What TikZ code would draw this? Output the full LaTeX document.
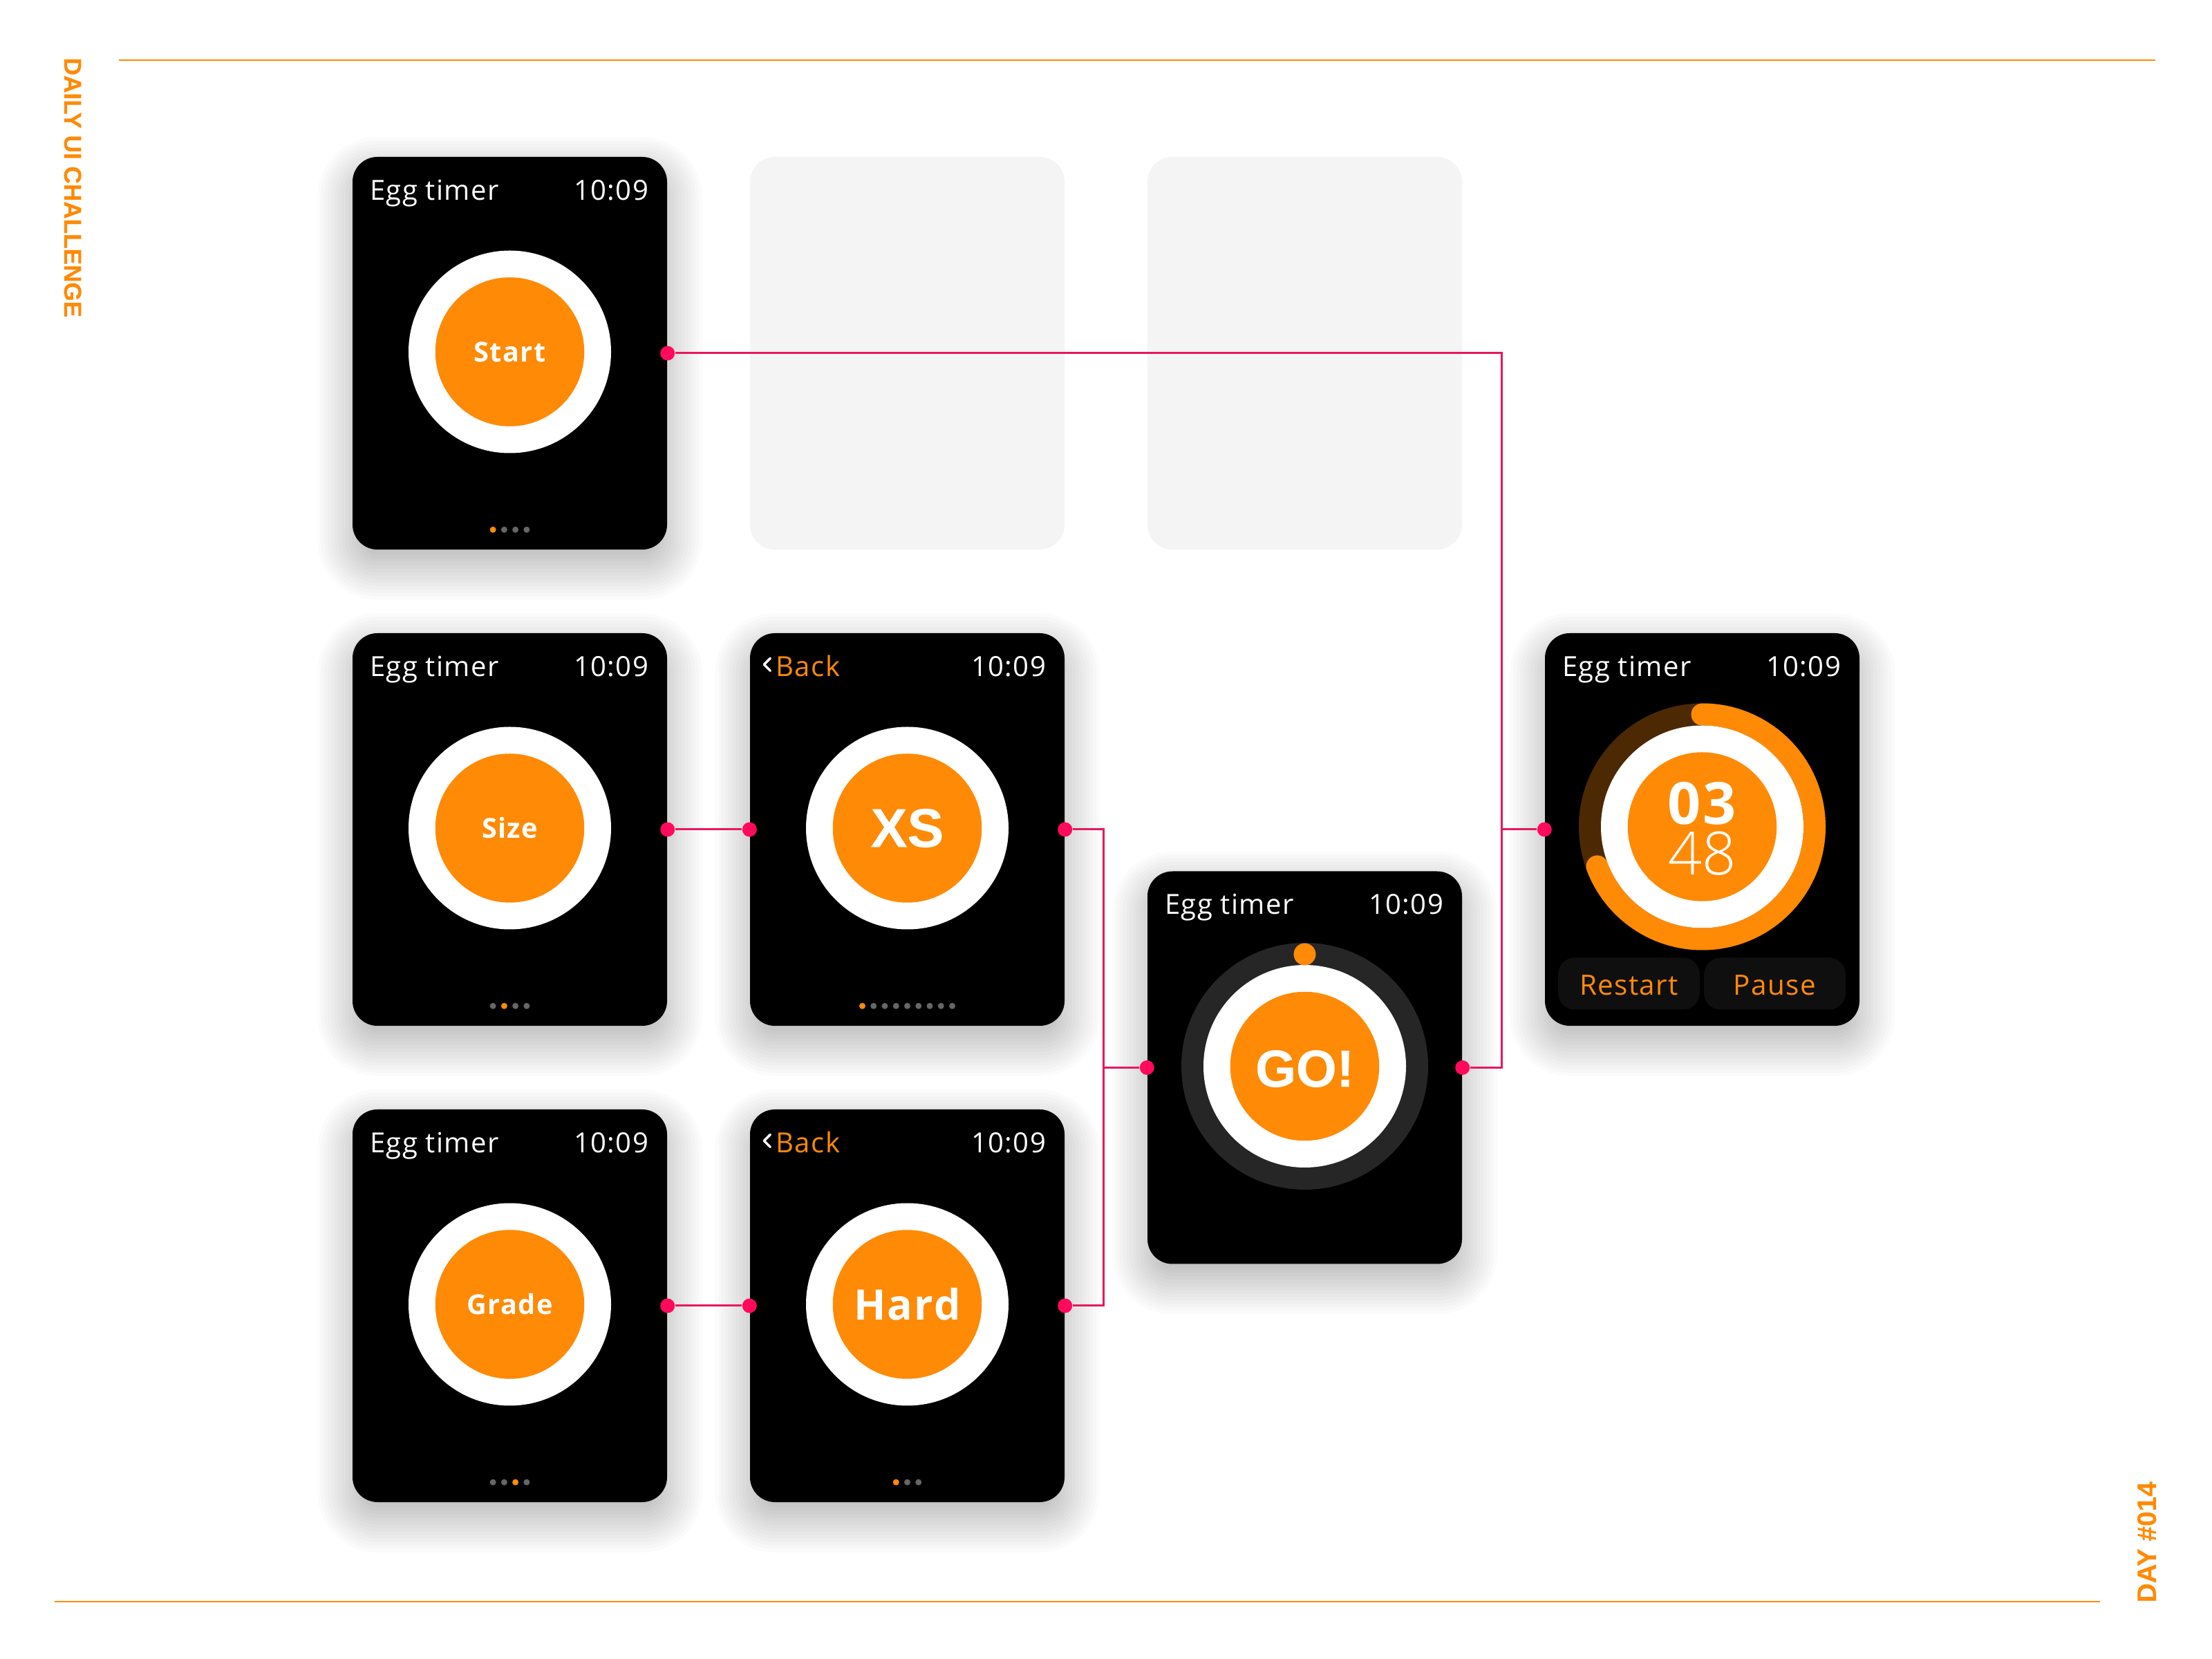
\documentclass[tikz,border=0pt]{standalone}
\usepackage{fontspec}
\setmainfont{Open Sans}[LetterSpace=3.5]
\newfontfamily\heavyfont{Liberation Sans}[UprightFont=* Bold, FakeBold=0.3]
\newfontfamily\thinfont{Open Sans Light}
\usetikzlibrary{positioning, calc, backgrounds}

\definecolor{eggorange}{HTML}{FF8A05}
\definecolor{wirepink}{HTML}{E8175D}
\definecolor{pinpink}{HTML}{FF0A5C}

\tikzset{
  screen/.style={fill=black, rounded corners=.36cm, minimum width=4.55cm, minimum height=5.68cm, inner sep=0pt},
  blank/.style={fill=black!4.5, rounded corners=.36cm, minimum width=4.55cm, minimum height=5.68cm, inner sep=0pt},
  disc/.style={circle, inner sep=0pt, minimum size=2.93cm, fill=white},
  yolk/.style={circle, inner sep=0pt, minimum size=2.155cm, fill=eggorange, text=white},
  pin/.style={circle, inner sep=0pt, minimum size=.21cm, fill=pinpink},
  wire/.style={draw=wirepink, line width=.03cm},
  rule/.style={draw=eggorange, line width=.022cm},
  headtext/.style={text=white, font=\fontsize{11.4}{13}\selectfont, inner sep=0pt},
  sidetext/.style={text=eggorange, inner sep=0pt},
  smallword/.style={font=\fontsize{11.3}{13}\bfseries\selectfont},
  button/.style={fill=black!94!white, rounded corners=.24cm, minimum width=2.05cm, minimum height=.75cm,
    inner sep=0pt, text height=.33cm, text=eggorange, font=\fontsize{11.5}{13}\selectfont},
  pagedot/.style={circle, inner sep=0pt, minimum size=.09cm, fill=black!60!white}
}

% soft shadow under a screen
\newcommand{\softshadow}[1]{%
  \begin{scope}[on background layer]
    \foreach \g in {-.5,-.45,...,.51}{
      \pgfmathsetmacro{\cornerr}{max(.36+\g,.05)}
      \fill[black, opacity=.015, rounded corners=\cornerr cm]
        ([xshift=-\g cm, yshift=-.22cm-\g cm]#1.south west) rectangle ([xshift=\g cm, yshift=-.22cm+\g cm]#1.north east);
    }
  \end{scope}
}
% header, disc and page dots of one screen
\newcommand{\screentop}[1]{%
  \node[headtext, anchor=base east] (#1time) at ([xshift=-.27cm, yshift=-.63cm]#1.north east) {10:09};
}
\newcommand{\eggtitle}[1]{%
  \node[headtext, anchor=base west] (#1title) at ([xshift=.25cm, yshift=-.63cm]#1.north west) {Egg timer};
}
\newcommand{\backlink}[1]{%
  \node[headtext, text=eggorange, anchor=base west] (#1back) at ([xshift=.375cm, yshift=-.63cm]#1.north west) {Back};
  \draw[white, line width=.035cm, line cap=round, line join=round]
    ([xshift=.30cm, yshift=-.37cm]#1.north west) -- ([xshift=.21cm, yshift=-.46cm]#1.north west) -- ([xshift=.30cm, yshift=-.55cm]#1.north west);
}
\newcommand{\pager}[3]{%
  \foreach \i in {1,...,#2}{
    \pgfmathsetmacro{\dotx}{(\i-(#2+1)/2)*.1625}
    \ifnum\i=#3
      \node[pagedot, fill=eggorange] (#1dot\i) at ([xshift=\dotx cm, yshift=-5.40cm]#1.north) {};
    \else
      \node[pagedot] (#1dot\i) at ([xshift=\dotx cm, yshift=-5.40cm]#1.north) {};
    \fi
  }
}

\begin{document}
\begin{tikzpicture}[node distance=6.89cm and 5.75cm, on grid]
  \useasboundingbox (0,0) rectangle (32,-24);
  \begin{scope}[on background layer]
    \fill[white] (0,0) rectangle (32,-24);
  \end{scope}

  \coordinate (ruletopa) at (1.72,-.87);
  \coordinate (ruletopb) at (31.18,-.87);
  \coordinate (rulebota) at (.79,-23.17);
  \coordinate (rulebotb) at (30.38,-23.17);
  \draw[rule] (ruletopa) -- (ruletopb);
  \draw[rule] (rulebota) -- (rulebotb);
  \node[sidetext, rotate=-90, anchor=south west, font=\fontsize{10}{13}\heavyfont] (sidea) at (.92,-.83) {DAILY UI CHALLENGE};
  \node[sidetext, rotate=90, anchor=south west, font=\fontsize{11}{13}\heavyfont] (sideb) at (31.2,-23.19) {DAY \#014};

  \node[screen] (start) at (7.375,-5.11) {};
  \node[blank] (blanka) [right=of start] {};
  \node[blank] (blankb) [right=of blanka] {};
  \node[screen] (size) [below=of start] {};
  \node[screen] (xs) [right=of size] {};
  \node[screen] (grade) [below=of size] {};
  \node[screen] (hard) [right=of grade] {};
  \node[screen] (go) at ($(xs)!.5!(hard)+(5.75,0)$) {};
  \node[screen] (run) [right=11.5cm of xs] {};
  \softshadow{start} \softshadow{size} \softshadow{xs}
  \softshadow{grade} \softshadow{hard} \softshadow{go} \softshadow{run}

  \eggtitle{start} \screentop{start}
  \eggtitle{size} \screentop{size}
  \backlink{xs} \screentop{xs}
  \eggtitle{grade} \screentop{grade}
  \backlink{hard} \screentop{hard}
  \eggtitle{go} \screentop{go}
  \eggtitle{run} \screentop{run}

  \node[disc] (startdisc) at ([yshift=.02cm]start.center) {};
  \node[yolk, smallword] (startyolk) at (startdisc) {Start};
  \node[disc] (sizedisc) at ([yshift=.02cm]size.center) {};
  \node[yolk, smallword] (sizeyolk) at (sizedisc) {Size};
  \node[disc] (gradedisc) at ([yshift=.02cm]grade.center) {};
  \node[yolk, smallword] (gradeyolk) at (gradedisc) {Grade};
  \node[disc] (xsdisc) at ([yshift=.02cm]xs.center) {};
  \node[yolk, font=\fontsize{22.5}{26}\heavyfont] (xsyolk) at (xsdisc) {XS};
  \node[disc] (harddisc) at ([yshift=.02cm]hard.center) {};
  \node[yolk, font=\fontsize{17.3}{20}\bfseries\selectfont] (hardyolk) at (harddisc) {Hard};

  \pager{start}{4}{1}
  \pager{size}{4}{2}
  \pager{grade}{4}{3}
  \pager{xs}{9}{1}
  \pager{hard}{3}{1}

  % timer ready to go
  \node[circle, inner sep=0pt, minimum size=3.57cm, fill=black!85!white] (goring) at ([yshift=.02cm]go.center) {};
  \node[disc] (godisc) at (goring) {};
  \node[yolk, text height=.60cm, font=\fontsize{21.5}{26}\heavyfont] (goyolk) at (goring) {GO!};
  \node[circle, inner sep=0pt, minimum size=.32cm, fill=eggorange] (goknob) at ([yshift=1.62cm]goring.center) {};

  % timer running
  \node[circle, inner sep=0pt, minimum size=3.57cm, fill=eggorange!30!black] (runring) at ([yshift=.04cm]run.center) {};
  \draw[eggorange, line width=.32cm, line cap=round] ([yshift=1.625cm]runring.center) arc[start angle=90, end angle=-159.3, radius=1.625cm];
  \node[disc] (rundisc) at (runring) {};
  \node[yolk] (runyolk) at (runring) {};
  \node[text=white, inner sep=0pt, font=\fontsize{24}{26}\bfseries\selectfont] (runmin) at ([yshift=.335cm]runring.center) {03};
  \node[text=white, inner sep=0pt, font=\fontsize{24.5}{26}\thinfont] (runsec) at ([yshift=-.385cm]runring.center) {48};
  \node[button] (restart) at (23.565,-14.23) {Restart};
  \node[button] (pause) at (25.675,-14.23) {Pause};

  % connectors
  \coordinate (railr) at ([xshift=.57cm]go.east);
  \coordinate (raill) at ([xshift=-.63cm]go.west);
  \node[pin] (startout) at (start.east) {};
  \node[pin] (sizeout) at (size.east) {};
  \node[pin] (xsin) at (xs.west) {};
  \node[pin] (xsout) at (xs.east) {};
  \node[pin] (gradeout) at (grade.east) {};
  \node[pin] (hardin) at (hard.west) {};
  \node[pin] (hardout) at (hard.east) {};
  \node[pin] (goin) at (go.west) {};
  \node[pin] (goout) at (go.east) {};
  \node[pin] (runin) at (run.west) {};
  \draw[wire] (startout) -| (railr) -- (goout);
  \draw[wire] (runin) -| (railr);
  \draw[wire] (sizeout) -- (xsin);
  \draw[wire] (gradeout) -- (hardin);
  \draw[wire] (xsout) -| (raill);
  \draw[wire] (hardout) -| (raill);
  \draw[wire] (raill) -- (goin);
\end{tikzpicture}
\end{document}
